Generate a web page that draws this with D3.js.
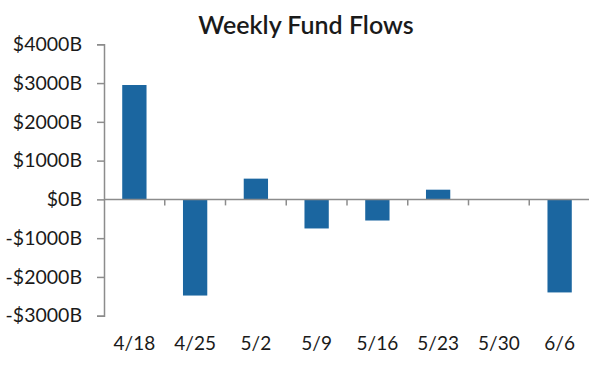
<!DOCTYPE html>
<html>
<head>
<meta charset="utf-8">
<script src="https://cdn.jsdelivr.net/npm/d3@7"></script>
<style>
  body { margin: 0; background: #fff; }
  svg text { font-family: Lato, "Open Sans", sans-serif; fill: #1a1a1a; }
</style>
</head>
<body>
<svg id="chart" width="589" height="375"></svg>
<script>
// data
var weeks = ['4/18', '4/25', '5/2', '5/9', '5/16', '5/23', '5/30', '6/6'];
var flows = [2950, -2480, 535, -750, -545, 250, -10, -2400];
var yTicks = [4000, 3000, 2000, 1000, 0, -1000, -2000, -3000];

var plotLeft = 104, plotRight = 590, plotTop = 44.3, plotBottom = 315.7;

var svg = d3.select('#chart');

var x = d3.scaleBand()
  .domain(weeks)
  .range([plotLeft, plotRight])
  .paddingInner(0.6)
  .paddingOuter(0.3);

var y = d3.scaleLinear()
  .domain([-3000, 4000])
  .range([plotBottom, plotTop]);

// title
svg.append('text')
  .attr('x', 306)
  .attr('y', 34)
  .attr('text-anchor', 'middle')
  .style('font-size', '25px')
  .style('font-weight', 600)
  .text('Weekly Fund Flows');

// bars
svg.append('g').selectAll('rect')
  .data(flows)
  .enter().append('rect')
  .attr('x', function (d, i) { return x(weeks[i]); })
  .attr('width', x.bandwidth())
  .attr('y', function (d) { return y(Math.max(0, d)); })
  .attr('height', function (d) { return Math.abs(y(d) - y(0)); })
  .attr('fill', '#1b66a0');

// y axis
var yAxis = svg.append('g')
  .attr('transform', 'translate(' + plotLeft + ',0)')
  .call(d3.axisLeft(y)
    .tickValues(yTicks)
    .tickSize(7)
    .tickPadding(15)
    .tickFormat(function (d) { return (d < 0 ? '-$' : '$') + Math.abs(d) + 'B'; }));
yAxis.select('.domain').attr('stroke', '#8c8c8c').attr('stroke-width', 1.5);
yAxis.selectAll('.tick line').attr('stroke', '#8c8c8c').attr('stroke-width', 1.5);
yAxis.selectAll('.tick text')
  .style('font-size', '19.5px')
  .attr('fill', '#1a1a1a');

// zero line with ticks between categories
var xTickPos = d3.range(1, weeks.length).map(function (i) {
  return plotLeft + i * (plotRight - plotLeft) / weeks.length;
});
var zero = svg.append('g');
zero.append('line')
  .attr('x1', plotLeft).attr('x2', plotRight)
  .attr('y1', y(0)).attr('y2', y(0))
  .attr('stroke', '#8c8c8c').attr('stroke-width', 1.5);
zero.selectAll('line.xt')
  .data(xTickPos)
  .enter().append('line')
  .attr('class', 'xt')
  .attr('x1', function (d) { return d; })
  .attr('x2', function (d) { return d; })
  .attr('y1', y(0)).attr('y2', y(0) + 6)
  .attr('stroke', '#8c8c8c').attr('stroke-width', 1.5);

// category labels along the bottom
svg.append('g').selectAll('text')
  .data(weeks)
  .enter().append('text')
  .attr('x', function (d) { return x(d) + x.bandwidth() / 2; })
  .attr('y', 350)
  .attr('text-anchor', 'middle')
  .style('font-size', '19px')
  .text(function (d) { return d; });
</script>
</body>
</html>
